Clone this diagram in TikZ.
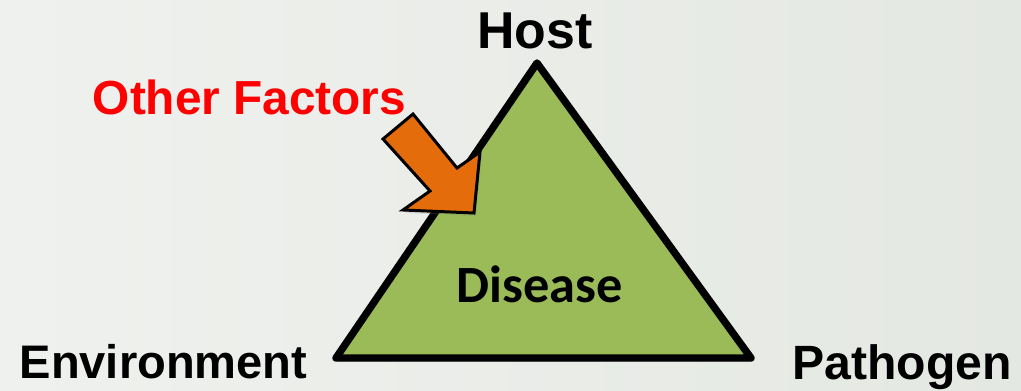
\documentclass[tikz,border=0pt]{standalone}
\usepackage{fontspec}
\setmainfont{Liberation Sans}
\newfontfamily\diseasefont{Carlito}
\usetikzlibrary{shadows}
\definecolor{triGreen}{HTML}{9BBB59}
\definecolor{factorOrange}{HTML}{E46C0A}
\definecolor{bgLeft}{HTML}{EFF1EE}
\definecolor{bgRight}{HTML}{E4E8E2}

\begin{document}
\begin{tikzpicture}[
    x=0.02cm, y=-0.02cm,
    label/.style={font=\fontsize{27}{30}\selectfont\bfseries, anchor=base, inner sep=0pt},
    triangle/.style={draw=black, fill=triGreen, line width=4.2pt, line join=round,
                     drop shadow={opacity=0.25, shadow xshift=0.03cm, shadow yshift=-0.08cm}},
    blockarrow/.style={draw=black, fill=factorOrange, line width=1.7pt, line join=miter,
                     drop shadow={opacity=0.2, shadow xshift=0.04cm, shadow yshift=-0.06cm}}
  ]
  %% Background
  \shade[left color=bgLeft, right color=bgRight] (0,0) rectangle (1021,391);
  \useasboundingbox (0,0) rectangle (1021,391);
  %% Triangle corners
  \coordinate (top)   at (537,63);
  \coordinate (left)  at (336,358);
  \coordinate (right) at (751,358);
  \path[triangle] (top) -- (right) -- (left) -- cycle;
  %% Other factors arrow
  \path[blockarrow] (413,114) -- (457,168) -- (480,152) -- (474,213)
    -- (403,210) -- (430,191) -- (383,139) -- cycle;
  %% Labels
  \node[label, font=\fontsize{29.5}{32}\selectfont\bfseries] (host) at (535,49) {Host};
  \node[label, font=\fontsize{27.2}{30}\selectfont\bfseries, text=red] (factors) at (249.5,115) {Other Factors};
  \node[label, font=\fontsize{29.8}{32}\selectfont\bfseries\diseasefont] (disease) at (540,303) {Disease};
  \node[label, font=\fontsize{26.8}{30}\selectfont\bfseries] (env) at (163.5,378) {Environment};
  \node[label, font=\fontsize{27.4}{30}\selectfont\bfseries] (path) at (902,380) {Pathogen};
\end{tikzpicture}
\end{document}
